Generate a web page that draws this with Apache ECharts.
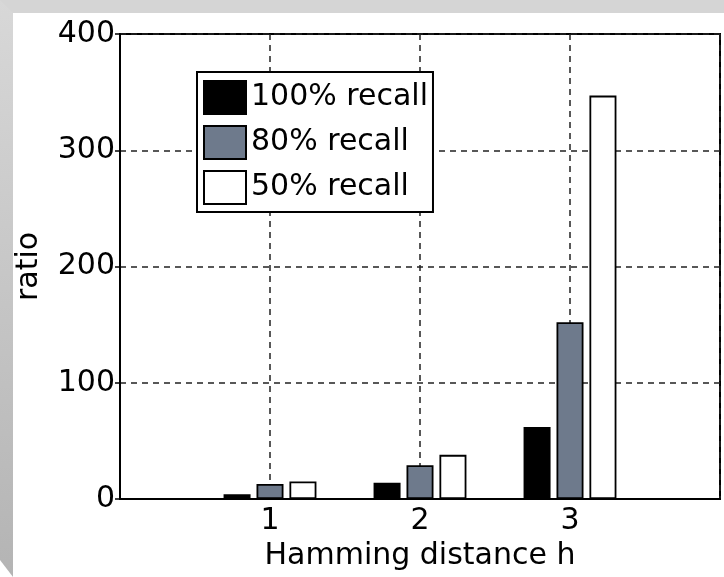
<!DOCTYPE html>
<html>
<head>
<meta charset="utf-8">
<script src="https://cdn.jsdelivr.net/npm/echarts@6/dist/echarts.min.js"></script>
<style>
  body { margin: 0; }
  #chart { width: 724px; height: 577px; }
</style>
</head>
<body>
<div id="chart"></div>
<script>
// Hamming distance buckets and ratio at each recall level
var distances = [1, 2, 3];
var recall100 = [4, 14, 62];
var recall80 = [13, 29, 152];
var recall50 = [15, 38, 347];
var yTicks = [0, 100, 200, 300, 400];

function pairs(vals) {
    return distances.map(function (d, i) { return [d, vals[i]]; });
}

var chart = echarts.init(document.getElementById('chart'));
var font = 'DejaVu Sans, sans-serif';
var barStyle = function (color) {
    return { color: color, borderColor: '#000', borderWidth: 1.8 };
};

var option = {
    backgroundColor: '#fff',
    animation: false,
    textStyle: { fontFamily: font },
    graphic: [
        { type: 'rect', left: 0, top: 0, shape: { width: 724, height: 13 }, style: { fill: '#d5d5d5' }, silent: true },
        { type: 'polygon', shape: { points: [[0, 0], [13, 13], [13, 577], [0, 560]] },
          style: { fill: new echarts.graphic.LinearGradient(0, 0, 0, 1, [
              { offset: 0, color: '#d8d8d8' }, { offset: 1, color: '#b4b4b4' }]) }, silent: true }
    ],
    grid: {
        left: 120, right: 4, top: 34, bottom: 78,
        show: true, borderColor: '#000', borderWidth: 2, backgroundColor: '#fff'
    },
    legend: {
        orient: 'vertical',
        left: 197, top: 72,
        padding: [8, 5, 7, 6],
        itemWidth: 42, itemHeight: 33, itemGap: 10, itemTextGap: 5,
        backgroundColor: '#fff',
        borderColor: '#000', borderWidth: 2, borderRadius: 0,
        icon: 'rect',
        textStyle: { fontSize: 30, color: '#000', fontFamily: font },
        data: ['100% recall', '80% recall', '50% recall']
    },
    xAxis: {
        type: 'value', min: 0, max: 4, interval: 1,
        name: 'Hamming distance h', nameLocation: 'middle', nameGap: 38,
        nameTextStyle: { fontSize: 30, color: '#000' },
        axisLine: { lineStyle: { color: '#000', width: 2 } },
        axisTick: { show: false },
        axisLabel: {
            fontSize: 30, color: '#000', margin: 7,
            formatter: function (v) { return distances.indexOf(v) >= 0 ? String(v) : ''; }
        },
        splitLine: { lineStyle: { color: '#222', type: [6, 5], width: 1.5 } }
    },
    yAxis: {
        type: 'value', min: yTicks[0], max: yTicks[yTicks.length - 1], interval: 100,
        name: 'ratio', nameLocation: 'middle', nameGap: 76,
        nameTextStyle: { fontSize: 30, color: '#000' },
        axisLine: { lineStyle: { color: '#000', width: 2 } },
        axisTick: { show: true, length: 5, lineStyle: { color: '#000', width: 1.5 } },
        axisLabel: { fontSize: 30, color: '#000', margin: 5 },
        splitLine: { lineStyle: { color: '#222', type: [6, 5], width: 1.5 } }
    },
    series: [
        { name: '100% recall', type: 'bar', barWidth: 27, barGap: '22%', data: pairs(recall100), itemStyle: barStyle('#000') },
        { name: '80% recall', type: 'bar', barWidth: 27, barGap: '22%', data: pairs(recall80), itemStyle: barStyle('#6e7a8c') },
        { name: '50% recall', type: 'bar', barWidth: 27, barGap: '22%', data: pairs(recall50), itemStyle: barStyle('#fff') }
    ]
};

option && chart.setOption(option);
</script>
</body>
</html>
